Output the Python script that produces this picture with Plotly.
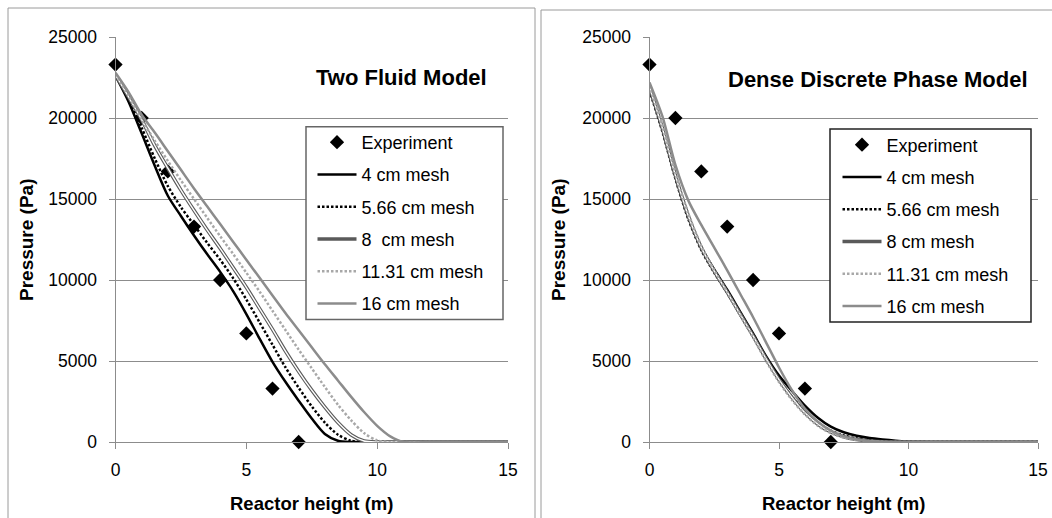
import plotly.graph_objects as go

# ---------------- data ----------------
exp_x = [0, 1, 2, 3, 4, 5, 6, 7]
exp_p = [23300, 20000, 16700, 13300, 10000, 6700, 3300, 0]

sim_x = [0, 0.5, 1, 1.5, 2, 2.5, 3, 3.5, 4, 4.5, 5, 5.5, 6, 6.5, 7, 7.5, 8, 8.5,
         9, 9.5, 10, 10.5, 11, 12, 13, 14, 15]

# Two Fluid Model
tfm_4 = [22600, 21000, 19050, 17050, 15200, 13950, 12750, 11600, 10500, 9300, 7900, 6400,
         4950, 3700, 2550, 1450, 500, 80, 0, 0, 0, 0, 0, 0, 0, 0, 0]
tfm_566 = [22650, 21200, 19400, 17500, 15800, 14500, 13400, 12300, 11250, 10100, 8800, 7400,
           6000, 4600, 3350, 2200, 1200, 450, 80, 0, 0, 0, 0, 0, 0, 0, 0]
tfm_8 = [22650, 21300, 19900, 18300, 16900, 15550, 14300, 13100, 11950, 10750, 9550, 8250,
         6950, 5600, 4350, 3200, 2150, 1200, 450, 60, 0, 0, 0, 0, 0, 0, 0]
tfm_1131 = [22700, 21400, 19900, 18600, 17350, 16150, 15000, 13850, 12700, 11600, 10450, 9300,
            8100, 6900, 5700, 4550, 3400, 2300, 1350, 550, 100, 0, 0, 0, 0, 0, 0]
tfm_16 = [22800, 21600, 20200, 19100, 17950, 16800, 15650, 14550, 13450, 12350, 11250, 10150,
          9050, 7950, 6900, 5850, 4800, 3800, 2800, 1850, 1000, 350, 0, 0, 0, 0, 0]

# Dense Discrete Phase Model
ddpm_4 = [21800, 19300, 16400, 13900, 12000, 10650, 9400, 8050, 6700, 5300, 4100, 3150,
          2250, 1500, 950, 600, 380, 240, 150, 80, 35, 12, 0, 0, 0, 0, 0]
ddpm_566 = [21700, 19150, 16250, 13750, 11850, 10450, 9200, 7850, 6500, 5100, 3850, 2800,
            1900, 1200, 700, 400, 220, 110, 50, 20, 5, 0, 0, 0, 0, 0, 0]
ddpm_8 = [21900, 19350, 16450, 13950, 12000, 10550, 9250, 7900, 6550, 5150, 3850, 2750,
          1800, 1100, 620, 320, 150, 60, 20, 0, 0, 0, 0, 0, 0, 0, 0]
ddpm_1131 = [22000, 19500, 16600, 14100, 12100, 10600, 9250, 7850, 6450, 5000, 3700, 2600,
             1700, 1000, 550, 270, 120, 40, 10, 0, 0, 0, 0, 0, 0, 0, 0]
ddpm_16 = [22200, 20100, 17100, 14900, 13400, 12000, 10600, 9150, 7700, 6150, 4600, 3200,
           2050, 1250, 700, 350, 150, 50, 10, 0, 0, 0, 0, 0, 0, 0, 0]

titles = ["Two Fluid Model", "Dense Discrete Phase Model"]
names_left = ["Experiment", "4 cm mesh", "5.66 cm mesh", "8\u00a0 cm mesh", "11.31 cm mesh", "16 cm mesh"]
names_right = ["Experiment", "4 cm mesh", "5.66 cm mesh", "8 cm mesh", "11.31 cm mesh", "16 cm mesh"]
y_ticks = [0, 5000, 10000, 15000, 20000, 25000]
x_ticks = [0, 5, 10, 15]

# ---------------- figure ----------------
W, H = 1052, 518
FONT = "Liberation Sans, Arial, sans-serif"
GRID = "#8c8c8c"

fig = go.Figure()


def add_panel(xa, ya, leg, names, series):
    fig.add_trace(go.Scatter(
        x=exp_x, y=exp_p, mode="markers", name=names[0], xaxis=xa, yaxis=ya, legend=leg,
        legendgroup=leg + "e", marker=dict(symbol="diamond", size=11, color="black"),
        cliponaxis=False))
    styles = [
        dict(color="black", width=2.5),
        dict(color="black", width=2.5, dash="2.5px,2px"),
        dict(color="#5a5a5a", width=3.6),
        dict(color="#a8a8a8", width=2.5, dash="2.5px,2px"),
        dict(color="#8c8c8c", width=2.5),
    ]
    for i, (ys, st) in enumerate(zip(series, styles)):
        fig.add_trace(go.Scatter(
            x=sim_x, y=ys, mode="lines", name=names[i + 1], xaxis=xa, yaxis=ya, legend=leg,
            legendgroup=leg + str(i), line=dict(shape="spline", smoothing=0.8, **st)))
        if i == 2:
            fig.add_trace(go.Scatter(
                x=sim_x, y=ys, mode="lines", showlegend=False, hoverinfo="skip",
                xaxis=xa, yaxis=ya, legend=leg, legendgroup=leg + str(i),
                line=dict(shape="spline", smoothing=0.8, color="white", width=1.4)))


add_panel("x", "y", "legend", names_left, [tfm_4, tfm_566, tfm_8, tfm_1131, tfm_16])
add_panel("x2", "y2", "legend2", names_right, [ddpm_4, ddpm_566, ddpm_8, ddpm_1131, ddpm_16])

y_dom = [(H - 442) / H, (H - 37) / H]
ax_common = dict(showline=True, linecolor=GRID, linewidth=1, ticks="outside", ticklen=6,
                 tickcolor=GRID, tickfont=dict(family=FONT, size=17.5, color="black"),
                 zeroline=False, automargin=False)
xcfg = dict(range=[0, 15], tickvals=x_ticks, showgrid=False, ticklabelstandoff=6, **ax_common)
ycfg = dict(range=[0, 25000], tickvals=y_ticks, tickformat="d", showgrid=True,
            gridcolor=GRID, gridwidth=1, ticklabelstandoff=8, **ax_common)

leg_common = dict(xanchor="left", yanchor="top", bgcolor="rgba(0,0,0,0)",
                  bordercolor="rgba(0,0,0,0)", borderwidth=1.5,
                  font=dict(family=FONT, size=18, color="black"),
                  traceorder="grouped", tracegroupgap=5.85, itemwidth=39)

fig.update_layout(
    width=W, height=H, margin=dict(l=0, r=0, t=0, b=0),
    paper_bgcolor="white", plot_bgcolor="white",
    font=dict(family=FONT, color="black"),
    xaxis=dict(domain=[115.5 / W, 508 / W], anchor="y", **xcfg),
    yaxis=dict(domain=y_dom, anchor="x", **ycfg),
    xaxis2=dict(domain=[649.5 / W, 1038 / W], anchor="y2", **xcfg),
    yaxis2=dict(domain=y_dom, anchor="x2", **ycfg),
    legend=dict(x=311 / W, y=1 - 122.5 / H, **leg_common),
    legend2=dict(x=836 / W, y=1 - 125 / H, **leg_common),
    showlegend=True,
)

# panel borders
for x0, x1, y0 in [(8, 535, 8), (541, 1060, 10)]:
    fig.add_shape(type="rect", xref="paper", yref="paper",
                  x0=x0 / W, x1=x1 / W, y0=-0.05, y1=1 - y0 / H,
                  line=dict(color="#9a9a9a", width=1), fillcolor="rgba(0,0,0,0)", layer="below")

# legend boxes
for x0, x1, y0, y1, col in [(306, 503, 126.7, 319.5, "#666666"), (830, 1031, 129, 322, "#222222")]:
    fig.add_shape(type="rect", xref="paper", yref="paper",
                  x0=x0 / W, x1=x1 / W, y0=1 - y1 / H, y1=1 - y0 / H,
                  line=dict(color=col, width=1.5), fillcolor="white", layer="above")

# chart titles
for cx, cy, t in [(401, 77, titles[0]), (878, 79, titles[1])]:
    fig.add_annotation(x=cx / W, y=1 - cy / H, xref="paper", yref="paper", text="<b>%s</b>" % t,
                       showarrow=False, xanchor="center", yanchor="middle",
                       font=dict(family=FONT, size=22, color="black"))

# axis titles
for cx in [(115.5 + 508) / 2, (649.5 + 1038) / 2]:
    fig.add_annotation(x=cx / W, y=1 - 503 / H, xref="paper", yref="paper",
                       text="<b>Reactor height (m)</b>", showarrow=False,
                       xanchor="center", yanchor="middle",
                       font=dict(family=FONT, size=18.5, color="black"))
for cx in [27, 559]:
    fig.add_annotation(x=cx / W, y=1 - 240 / H, xref="paper", yref="paper",
                       text="<b>Pressure (Pa)</b>", showarrow=False, textangle=-90,
                       xanchor="center", yanchor="middle",
                       font=dict(family=FONT, size=19, color="black"))

fig.write_html("out.html", config={"displayModeBar": False},
               post_script="document.body.style.margin='0';document.body.style.overflow='hidden';")
